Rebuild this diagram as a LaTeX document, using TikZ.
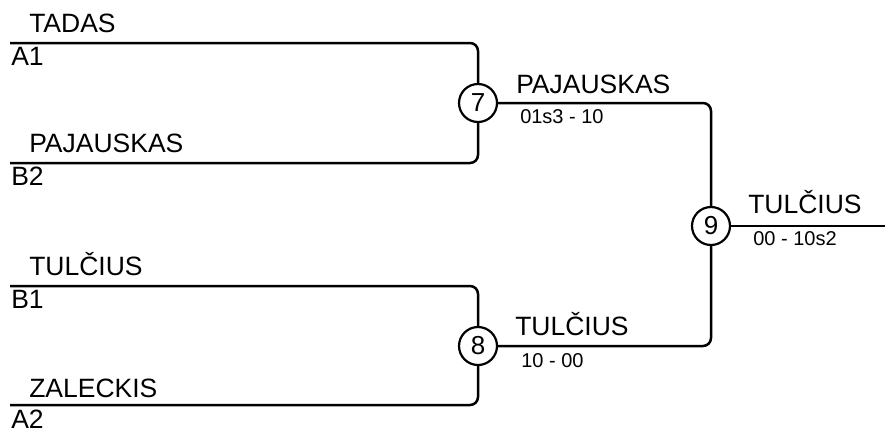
\documentclass[tikz,border=0pt]{standalone}
\usepackage{fontspec}
\setmainfont{Liberation Sans}
\usetikzlibrary{positioning}

\begin{document}
\begin{tikzpicture}
	[x=1pt, y=-1pt, line width=2.5pt, rounded corners=8pt,
	 game/.style={circle, draw, line width=2.2pt, minimum size=38pt, inner sep=0pt, font=\fontsize{26}{26}\selectfont},
	 player/.style={anchor=base west, inner sep=0pt, font=\fontsize{26.5}{26.5}\selectfont},
	 score/.style={anchor=base west, inner sep=0pt, font=\fontsize{20}{20}\selectfont}]
	\useasboundingbox (0,0) rectangle (885,432);
	\node[game] (G7) at (478,103) {7};
	\node[game] (G8) at (478,346) {8};
	\node[game] (G9) at (711,226) {9};
	\coordinate (A1) at (10,43);
	\coordinate (B2) at (10,163);
	\coordinate (B1) at (10,286);
	\coordinate (A2) at (10,405);
	\coordinate (W) at (885,226);
	\draw (A1) -| (G7);
	\draw (B2) -| (G7);
	\draw (B1) -| (G8);
	\draw (A2) -| (G8);
	\draw (G7) -| (G9);
	\draw (G8) -| (G9);
	\draw (G9) -- (W);
	\node[player] (pA1) at (28,32) {TADAS};
	\node[player] (sA1) at (10,65) {A1};
	\node[player] (pB2) at (28,152) {PAJAUSKAS};
	\node[player] (sB2) at (10,185) {B2};
	\node[player] (pB1) at (28,275) {TULČIUS};
	\node[player] (sB1) at (10,308) {B1};
	\node[player] (pA2) at (28,397) {ZALECKIS};
	\node[player] (sA2) at (10,428) {A2};
	\node[player] (w7) at (515,93) {PAJAUSKAS};
	\node[score] (r7) at (519,123) {01s3 - 10};
	\node[player] (w8) at (514,335) {TULČIUS};
	\node[score] (r8) at (520,367) {10 - 00};
	\node[player] (w9) at (747,213) {TULČIUS};
	\node[score] (r9) at (752,245) {00 - 10s2};
\end{tikzpicture}
\end{document}
